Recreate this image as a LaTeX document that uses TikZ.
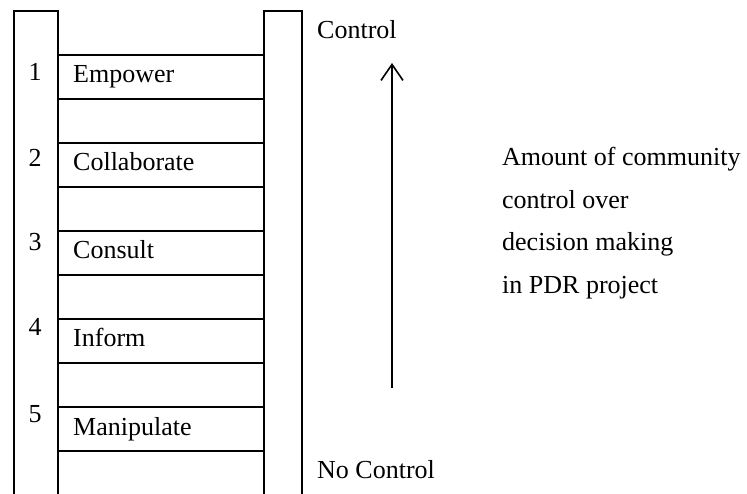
\documentclass[tikz,border=0pt]{standalone}
\usepackage{fontspec}
\setmainfont{Liberation Serif}
\usetikzlibrary{arrows.meta}
\begin{document}
\begin{tikzpicture}[x=1pt,y=-1pt,
  rail/.style={line width=2pt, line cap=rect},
  rung/.style={line width=2pt},
  txt/.style={inner sep=0pt, anchor=base west, font=\fontsize{26}{31}\selectfont},
  num/.style={inner sep=0pt, anchor=base, font=\fontsize{26}{31}\selectfont},
  uparrow/.style={line width=1.6pt, -{Straight Barb[length=16pt,width=22pt,line width=1.6pt]}}]
\useasboundingbox (0,0) rectangle (747,493);
% rails
\draw[rail] (14,500) -- (14,11) -- (58,11) -- (58,500);
\draw[rail] (264,500) -- (264,11) -- (302,11) -- (302,500);
% rungs
\foreach \y in {55,99,143,187,231,275,319,363,407,451}
  \draw[rung] (58,\y) -- (264,\y);
% numbers
\node[num] (n1) at (35,80) {1};
\node[num] (n2) at (35,166) {2};
\node[num] (n3) at (35,250) {3};
\node[num] (n4) at (35,335) {4};
\node[num] (n5) at (35,422) {5};
% labels
\node[txt] (l1) at (73,82) {Empower};
\node[txt] (l2) at (73,170) {Collaborate};
\node[txt] (l3) at (73,258) {Consult};
\node[txt] (l4) at (73,346) {Inform};
\node[txt] (l5) at (73,435) {Manipulate};
% right side
\node[txt] (ctrl) at (317,38) {Control};
\node[txt] (noctrl) at (317,478) {No Control};
\coordinate (abot) at (392,388);
\coordinate (atop) at (392,63);
\draw[uparrow] (abot) -- (atop);
\node[txt] (t1) at (502,165) {Amount of community};
\node[txt] (t2) at (502,208) {control over};
\node[txt] (t3) at (502,250) {decision making};
\node[txt] (t4) at (502,293) {in PDR project};
\end{tikzpicture}
\end{document}
